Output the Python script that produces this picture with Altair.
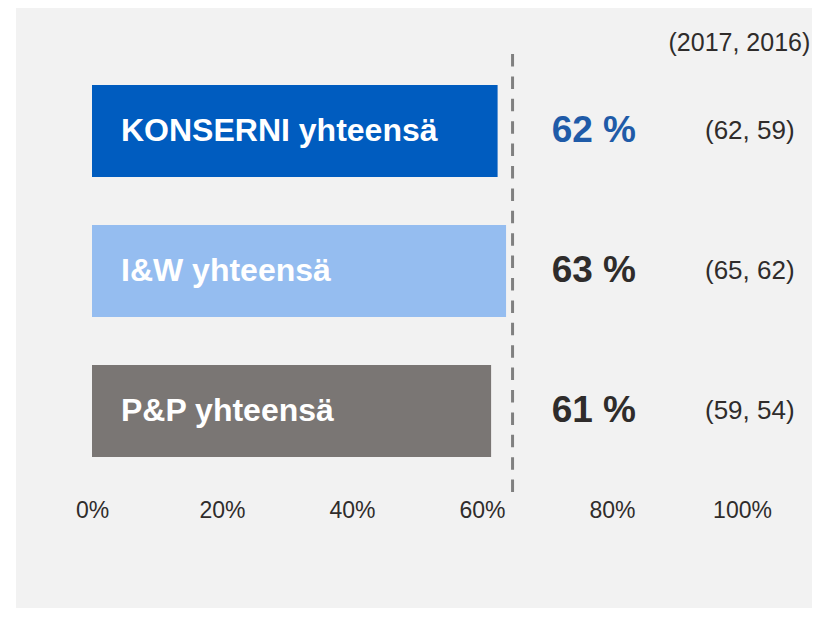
import altair as alt
import pandas as pd

# ---- data ----
categories = ["KONSERNI yhteensä", "I&W yhteensä", "P&P yhteensä"]
bar_values = [62.4, 63.7, 61.4]
pct_labels = ["62 %", "63 %", "61 %"]
prev_labels = ["(62, 59)", "(65, 62)", "(59, 54)"]
header_label = "(2017, 2016)"
reference_value = 64.7
tick_values = [0, 20, 40, 60, 80, 100]

# ---- styles ----
bar_colors = ["#005CBF", "#95BDF0", "#7A7674"]
blue_text = "#1F5BA8"
dark_text = "#2F2C2B"
bg = "#F2F2F2"
FONT = "Liberation Sans"

df = pd.DataFrame({
    "category": categories,
    "value": bar_values,
    "pct": pct_labels,
    "prev": prev_labels,
})

W, H = 796, 600
xscale = alt.Scale(domain=[-11.6923, 110.769], nice=False, zero=False)
yscale = alt.Scale(domain=categories, paddingInner=0.342857, paddingOuter=0.814286,
                   align=0.33772, round=False)

base = alt.Chart(df)

bars = base.mark_bar().encode(
    y=alt.Y("category:N", sort=categories, scale=yscale, axis=None),
    x=alt.X("value:Q", scale=xscale,
            axis=alt.Axis(values=tick_values, labelExpr="datum.value + '%'",
                          domain=False, ticks=False, tickSize=0, grid=False,
                          labelFontSize=23, labelColor=dark_text, labelFont=FONT,
                          labelBaseline="middle", labelPadding=0, offset=-98,
                          labelOverlap=False, labelFlush=False, title=None)),
    x2=alt.datum(0),
    color=alt.Color("category:N", scale=alt.Scale(domain=categories, range=bar_colors),
                    legend=None),
)

names = base.mark_text(align="left", baseline="middle", dx=29, fontSize=32,
                       fontWeight="bold", font=FONT, color="white").encode(
    y=alt.Y("category:N", sort=categories, scale=yscale, axis=None),
    x=alt.datum(0),
    text="category:N",
)

pcts = base.mark_text(align="center", baseline="middle", fontSize=37,
                      fontWeight="bold", font=FONT).encode(
    y=alt.Y("category:N", sort=categories, scale=yscale, axis=None),
    x=alt.datum(77.2),
    text="pct:N",
    color=alt.condition(alt.datum.category == categories[0],
                        alt.value(blue_text), alt.value(dark_text)),
)

prevs = base.mark_text(align="center", baseline="middle", fontSize=26,
                       font=FONT, color=dark_text).encode(
    y=alt.Y("category:N", sort=categories, scale=yscale, axis=None),
    x=alt.datum(101.2),
    text="prev:N",
)

header = alt.Chart(pd.DataFrame({"t": [header_label]})).mark_text(
    align="center", baseline="middle", fontSize=25, font=FONT, color=dark_text
).encode(
    x=alt.datum(99.6),
    y=alt.value(35),
    text="t:N",
)

rule = alt.Chart(pd.DataFrame({"r": [reference_value]})).mark_rule(
    color="#808080", strokeWidth=3, strokeDash=[12.5, 9.9]
).encode(
    x=alt.X("r:Q", scale=xscale),
    y=alt.value(46),
    y2=alt.value(485),
)

chart = alt.layer(bars, rule, names, pcts, prevs, header).properties(
    width=W, height=H,
    padding={"left": 8, "top": 0, "right": 0, "bottom": 0},
    autosize=alt.AutoSizeParams(type="none"),
).configure(background="white").configure_view(stroke=None, fill=bg)

chart.save("out.html", embed_options={"renderer": "svg", "actions": False})
